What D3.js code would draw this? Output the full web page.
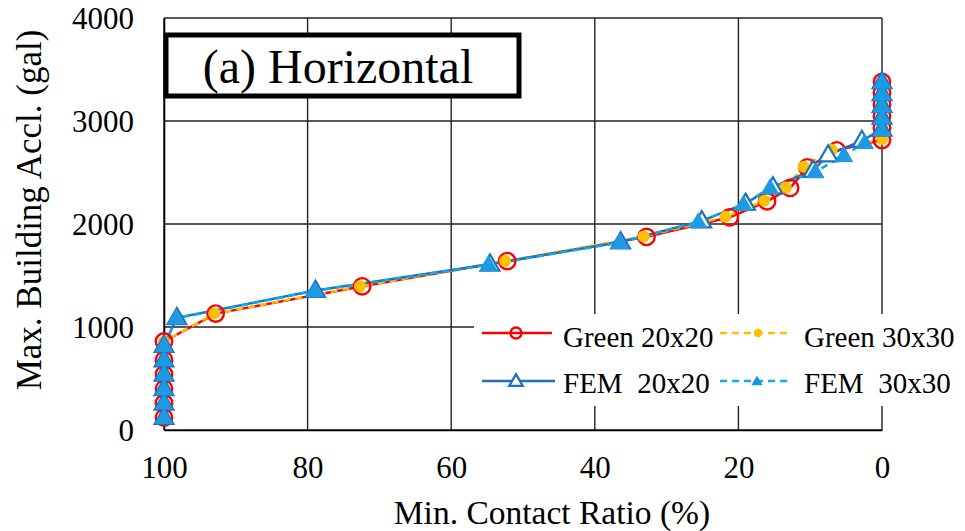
<!DOCTYPE html>
<html>
<head>
<meta charset="utf-8">
<script src="https://cdn.jsdelivr.net/npm/d3@7"></script>
<style>
  html, body { margin: 0; padding: 0; background: #fff; }
  svg text { font-family: "Liberation Serif", "DejaVu Serif", serif; fill: #000; white-space: pre; }
</style>
</head>
<body>
<svg id="chart" width="965" height="531"></svg>
<script>
// ---- data ----
const xTicks = [100, 80, 60, 40, 20, 0];
const yTicks = [0, 1000, 2000, 3000, 4000];
const seriesNames = ["Green 20x20", "Green 30x30", "FEM  20x20", "FEM  30x30"];

const green20X = [100, 100, 100, 100, 100, 100, 92.8, 72.4, 52.2, 32.8, 21.2, 16.0, 12.8, 10.4, 6.3, 0, 0, 0, 0, 0, 0];
const green20Y = [120, 260, 400, 540, 680, 860, 1130, 1395, 1640, 1875, 2065, 2220, 2350, 2550, 2715, 2815, 2930, 3045, 3160, 3270, 3380];

const green30X = [100, 100, 100, 100, 100, 100, 93.0, 72.7, 52.5, 33.2, 21.8, 16.4, 13.4, 10.9, 7.0, 0, 0, 0, 0, 0, 0];
const green30Y = [120, 260, 400, 540, 680, 860, 1130, 1395, 1640, 1878, 2070, 2225, 2355, 2555, 2720, 2825, 2940, 3055, 3170, 3280, 3370];

const fem20X = [100, 100, 100, 100, 100, 100, 98.2, 78.9, 54.6, 36.4, 25.1, 19.0, 15.2, 9.6, 7.5, 2.8, 0, 0, 0, 0, 0];
const fem20Y = [120, 260, 400, 540, 680, 820, 1090, 1355, 1610, 1825, 2030, 2200, 2360, 2520, 2670, 2810, 2920, 3035, 3150, 3265, 3380];

const fem30X = [100, 100, 100, 100, 100, 100, 98.3, 79.0, 54.8, 36.5, 25.6, 19.3, 15.6, 9.3, 5.3, 2.4, 0, 0, 0, 0, 0];
const fem30Y = [120, 260, 400, 540, 680, 820, 1085, 1350, 1605, 1820, 2020, 2190, 2350, 2505, 2665, 2790, 2915, 3030, 3145, 3260, 3375];

// ---- layout ----
const svg = d3.select("#chart");
const L = 164, R = 882, T = 18, B = 430;
const x = d3.scaleLinear().domain([100, 0]).range([L, R]);
const y = d3.scaleLinear().domain([0, 4000]).range([B, T]);

const zip = (xs, ys) => xs.map((v, i) => [v, ys[i]]);
const series = [
  { name: seriesNames[0], pts: zip(green20X, green20Y), color: "#FF0000", dash: null, marker: "circleOpen" },
  { name: seriesNames[1], pts: zip(green30X, green30Y), color: "#FFC000", dash: "7,5", marker: "circleFill" },
  { name: seriesNames[2], pts: zip(fem20X, fem20Y), color: "#1F6FC4", dash: null, marker: "triOpen" },
  { name: seriesNames[3], pts: zip(fem30X, fem30Y), color: "#00B0F0", dash: "7,5", marker: "triFill" }
];

// gridlines
const grid = svg.append("g");
grid.selectAll("line.v").data(xTicks).join("line")
  .attr("x1", d => x(d)).attr("x2", d => x(d)).attr("y1", T).attr("y2", B)
  .attr("stroke", "#222").attr("stroke-width", 1.4);
grid.selectAll("line.h").data(yTicks).join("line")
  .attr("x1", L).attr("x2", R).attr("y1", d => y(d)).attr("y2", d => y(d))
  .attr("stroke", "#222").attr("stroke-width", 1.4);

// axes
const xAxis = d3.axisBottom(x).tickValues(xTicks).tickFormat(d3.format("d")).tickSize(0).tickPadding(26);
const gx = svg.append("g").attr("transform", `translate(0,${B})`).call(xAxis);
gx.select(".domain").attr("stroke", "#000").attr("stroke-width", 1.6);
gx.selectAll("text").style("font-size", "31px");

const yAxis = d3.axisLeft(y).tickValues(yTicks).tickFormat(d3.format("d")).tickSize(0).tickPadding(30);
const gy = svg.append("g").attr("transform", `translate(${L},0)`).call(yAxis);
gy.select(".domain").attr("stroke", "#000").attr("stroke-width", 1.6);
gy.selectAll("text").style("font-size", "31px").attr("dy", "0.35em");

// axis titles
svg.append("text").attr("x", 552).attr("y", 524).attr("text-anchor", "middle")
  .style("font-size", "33.5px").text("Min. Contact Ratio (%)");
svg.append("text").attr("transform", "translate(41,210) rotate(-90)").attr("text-anchor", "middle")
  .style("font-size", "35px").text("Max. Building Accl. (gal)");

// title box
svg.append("rect").attr("x", 166).attr("y", 35).attr("width", 353).attr("height", 61)
  .attr("fill", "#fff").attr("stroke", "#000").attr("stroke-width", 5);
svg.append("text").attr("x", 338).attr("y", 83).attr("text-anchor", "middle")
  .style("font-size", "48px").text("(a) Horizontal");

// series lines
const line = d3.line().x(d => x(d[0])).y(d => y(d[1]));
const plot = svg.append("g");
series.forEach(s => {
  plot.append("path").datum(s.pts).attr("d", line)
    .attr("fill", "none").attr("stroke", s.color).attr("stroke-width", 2.5)
    .attr("stroke-dasharray", s.dash);
});

const triBig = d3.symbol().type(d3.symbolTriangle).size(150)();
const triSmallOpen = d3.symbol().type(d3.symbolTriangle).size(80)();
const triSmallFill = d3.symbol().type(d3.symbolTriangle).size(55)();

function drawMarker(g, s, px, py, legend) {
  if (s.marker === "circleOpen") {
    g.append("circle").attr("cx", px).attr("cy", py).attr("r", legend ? 5.5 : 8.2)
      .attr("fill", "none").attr("stroke", s.color).attr("stroke-width", 2.4);
  } else if (s.marker === "circleFill") {
    g.append("circle").attr("cx", px).attr("cy", py).attr("r", legend ? 4.2 : 6)
      .attr("fill", s.color);
  } else if (s.marker === "triOpen") {
    g.append("path").attr("d", legend ? triSmallOpen : triBig)
      .attr("transform", `translate(${px},${py + 1})`)
      .attr("fill", "#fff").attr("stroke", s.color).attr("stroke-width", 2.2);
  } else {
    g.append("path").attr("d", legend ? triSmallFill : triBig)
      .attr("transform", `translate(${px},${py + 1})`)
      .attr("fill", legend ? "#1496E0" : "#1C9BE2");
  }
}

series.forEach(s => {
  const g = plot.append("g");
  s.pts.forEach(p => drawMarker(g, s, x(p[0]), y(p[1]), false));
});

// legend
const lg = svg.append("g");
lg.append("rect").attr("x", 474).attr("y", 314).attr("width", 491).attr("height", 92).attr("fill", "#fff");
const legPos = [
  { lx1: 482, lx2: 552, mx: 516, tx: 563, ly: 333, ty: 347 },
  { lx1: 720, lx2: 792, mx: 758, tx: 804, ly: 333, ty: 347 },
  { lx1: 482, lx2: 555, mx: 516, tx: 563, ly: 381, ty: 393 },
  { lx1: 720, lx2: 792, mx: 757, tx: 804, ly: 381, ty: 393 }
];
series.forEach((s, i) => {
  const p = legPos[i];
  lg.append("line").attr("x1", p.lx1).attr("x2", p.lx2).attr("y1", p.ly).attr("y2", p.ly)
    .attr("stroke", s.color).attr("stroke-width", 2.5).attr("stroke-dasharray", s.dash);
  drawMarker(lg, s, p.mx, p.ly, true);
  lg.append("text").attr("x", p.tx).attr("y", p.ty).style("font-size", "29px").text(s.name);
});
</script>
</body>
</html>
